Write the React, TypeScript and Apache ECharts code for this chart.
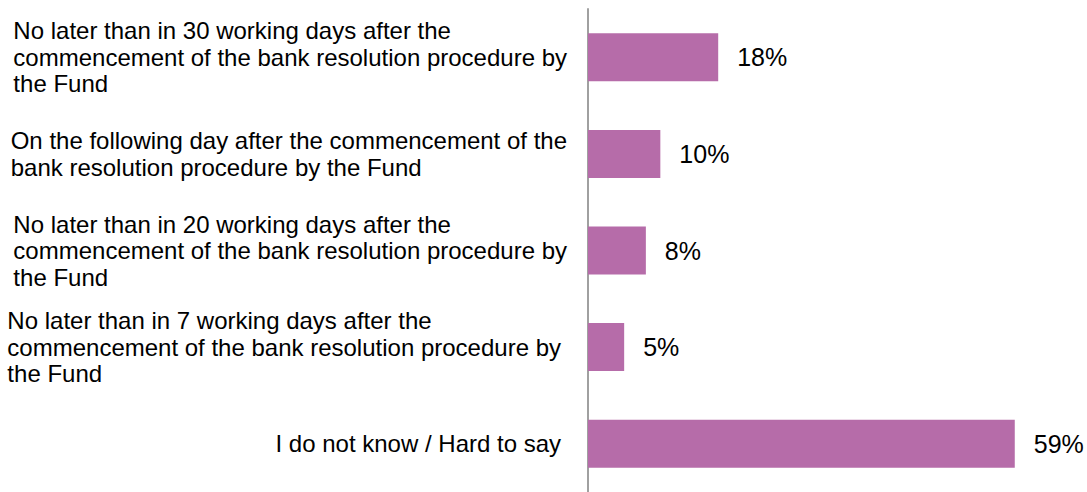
import React, { useEffect, useRef } from "react";
import * as echarts from "echarts";

const categories: string[] = [
  "No later than in 30 working days after the\ncommencement of the bank resolution procedure by\nthe Fund",
  "On the following day after the commencement of the\nbank resolution procedure by the Fund",
  "No later than in 20 working days after the\ncommencement of the bank resolution procedure by\nthe Fund",
  "No later than in 7 working days after the\ncommencement of the bank resolution procedure by\nthe Fund",
  "I do not know / Hard to say",
];
const values: number[] = [18, 10, 8, 5, 59];

const FONT = "'Liberation Sans', Arial, Helvetica, sans-serif";

export default function App() {
  const ref = useRef<HTMLDivElement>(null);
  useEffect(() => {
    if (!ref.current) return;
    const chart = echarts.init(ref.current, undefined, { renderer: "svg" });
    const tok = {
      align: "left",
      fontFamily: FONT,
      fontSize: 24,
      lineHeight: 26.5,
      color: "#000000",
    };
    chart.setOption({
      animation: false,
      backgroundColor: "#ffffff",
      grid: { left: 588, right: 65, top: 9, bottom: 0, containLabel: false },
      xAxis: {
        type: "value",
        min: 0,
        max: 60,
        show: false,
        splitLine: { show: false },
      },
      yAxis: {
        type: "category",
        inverse: true,
        data: categories,
        axisLine: { show: true, lineStyle: { color: "#a0a0a0", width: 2 } },
        axisTick: { show: false },
        splitLine: { show: false },
        axisLabel: {
          margin: 21,
          align: "right",
          fontFamily: FONT,
          fontSize: 24,
          color: "#000000",
          formatter: (v: string, i: number) => {
            const name = i >= 3 ? "b" : "a";
            return v
              .split("\n")
              .map((l) => `{${name}|${l}}`)
              .join("\n");
          },
          rich: {
            a: { ...tok },
            b: { ...tok, padding: [0, 6, 0, 0] },
          },
        },
      },
      series: [
        {
          type: "bar",
          data: values,
          barWidth: 48,
          itemStyle: { color: "#b66ca9" },
          label: {
            show: true,
            position: "right",
            distance: 19,
            formatter: "{c}%",
            fontFamily: FONT,
            fontSize: 25,
            color: "#000000",
          },
        },
      ],
    });
    return () => chart.dispose();
  }, []);
  return (
    <div
      ref={ref}
      style={{ position: "fixed", left: 0, top: 0, width: 1087, height: 492 }}
    />
  );
}
